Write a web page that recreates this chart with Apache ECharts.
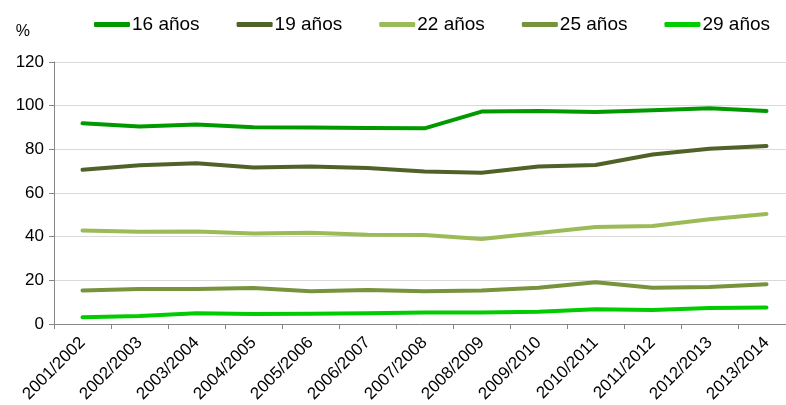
<!DOCTYPE html>
<html>
<head>
<meta charset="utf-8">
<script src="https://cdn.jsdelivr.net/npm/echarts@6/dist/echarts.min.js"></script>
<style>html,body{margin:0;padding:0;background:#fff}#c{width:786px;height:405px}</style>
</head>
<body>
<div id="c"></div>
<script>
const categories = ['2001/2002','2002/2003','2003/2004','2004/2005','2005/2006','2006/2007','2007/2008','2008/2009','2009/2010','2010/2011','2011/2012','2012/2013','2013/2014'];
const s16 = [91.9, 90.5, 91.4, 90.1, 90.0, 89.8, 89.6, 97.3, 97.6, 97.1, 97.9, 98.8, 97.6];
const s19 = [70.6, 72.7, 73.6, 71.7, 72.1, 71.4, 69.9, 69.3, 72.1, 72.8, 77.6, 80.3, 81.5];
const s22 = [42.8, 42.3, 42.4, 41.4, 41.8, 40.9, 40.8, 38.9, 41.7, 44.4, 44.9, 48.0, 50.4];
const s25 = [15.4, 16.0, 16.0, 16.5, 15.0, 15.6, 15.0, 15.3, 16.6, 19.1, 16.6, 16.9, 18.2];
const s29 = [3.1, 3.7, 4.9, 4.6, 4.7, 4.9, 5.3, 5.3, 5.6, 6.7, 6.4, 7.3, 7.6];
const seriesNames = ['16 años','19 años','22 años','25 años','29 años'];
const colors = ['#009A00','#4F6228','#9BBB59','#77933C','#00CC00'];
const yTicks = {min: 0, max: 120, interval: 20};

const font = 'Liberation Sans, Arial, sans-serif';
const dataSets = [s16, s19, s22, s25, s29];
const chart = echarts.init(document.getElementById('c'), null, {renderer: 'canvas'});
chart.setOption({
  animation: false,
  color: colors,
  textStyle: {fontFamily: font},
  legend: {
    left: 89, top: 10,
    icon: 'roundRect',
    itemWidth: 36, itemHeight: 5,
    itemGap: 37,
    textStyle: {fontSize: 19, color: '#000', fontFamily: font, padding: [0, 0, 0, -3]},
    data: seriesNames
  },
  grid: {left: 54, width: 741, top: 62, bottom: 81, containLabel: false, outerBoundsMode: 'none'},
  xAxis: {
    type: 'category',
    data: categories,
    boundaryGap: true,
    axisLine: {lineStyle: {color: '#868686', width: 1}},
    axisTick: {show: true, length: 5, lineStyle: {color: '#868686'}},
    axisLabel: {rotate: 45, fontSize: 17, color: '#000', margin: 16, fontFamily: font, interval: 0}
  },
  yAxis: {
    type: 'value',
    name: '%',
    nameLocation: 'end',
    nameGap: 22,
    nameTextStyle: {fontSize: 16, color: '#000', align: 'right', padding: [0, 24, 0, 0]},
    min: yTicks.min, max: yTicks.max, interval: yTicks.interval,
    axisLine: {show: true, lineStyle: {color: '#868686', width: 1}},
    axisTick: {show: true, length: 5, lineStyle: {color: '#868686'}},
    axisLabel: {fontSize: 17, color: '#000', margin: 10, fontFamily: font},
    splitLine: {lineStyle: {color: '#D9D9D9', width: 1}}
  },
  series: seriesNames.map((n, i) => ({
    name: n,
    type: 'line',
    data: dataSets[i],
    symbol: 'none',
    lineStyle: {width: 4, cap: 'round', join: 'round', color: colors[i]},
    itemStyle: {color: colors[i]}
  }))
});
</script>
</body>
</html>
